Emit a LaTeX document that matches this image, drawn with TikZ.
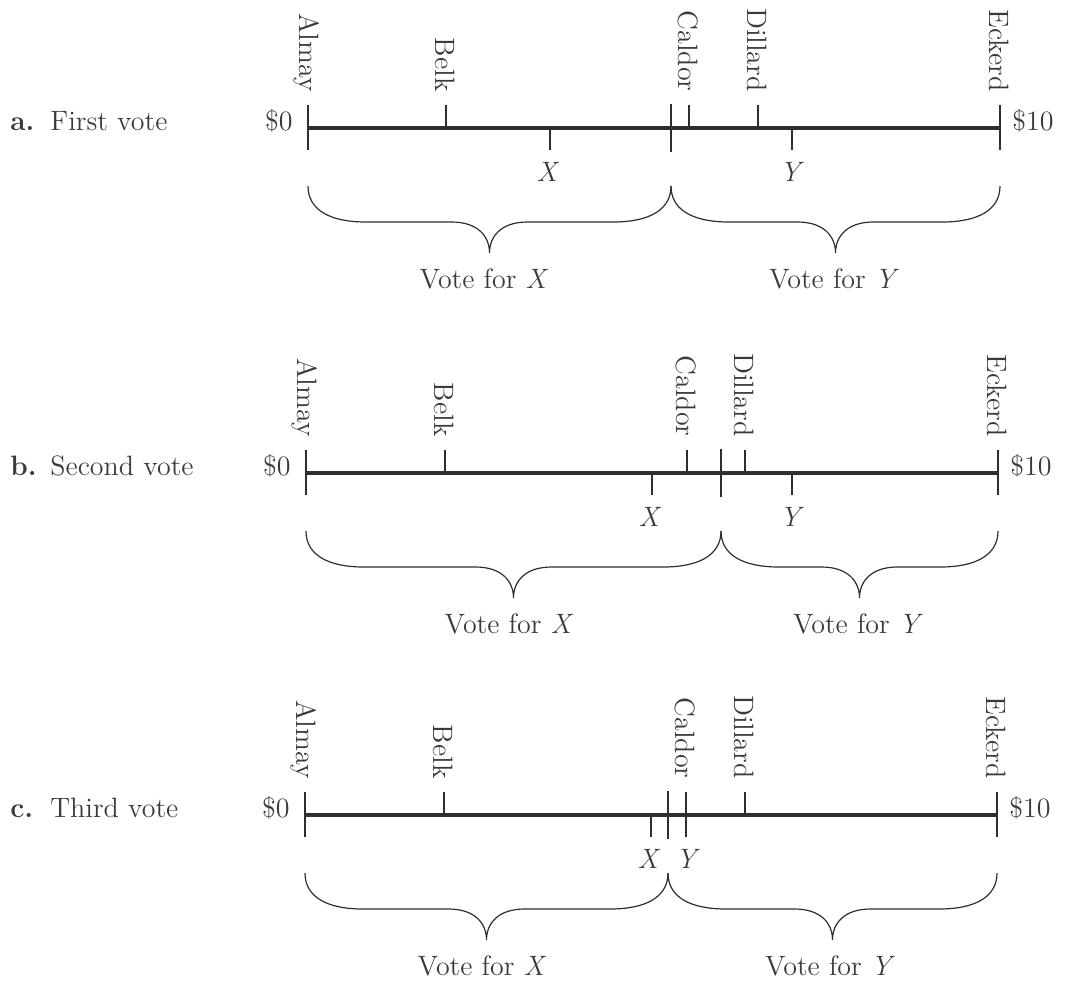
\documentclass[tikz,border=0pt]{standalone}
\usetikzlibrary{calc}
\definecolor{linecol}{HTML}{2E2E2E}
\definecolor{textcol}{HTML}{3A3A3A}
\tikzset{
  axisline/.style={draw=linecol, line width=1.6pt},
  tickline/.style={draw=linecol, line width=0.6pt},
  midtick/.style={draw=linecol, line width=1.3pt},
  bracepath/.style={draw=linecol, line width=0.6pt},
  storelbl/.style={rotate=-90, anchor=east, inner sep=0pt, text=textcol, font=\fontsize{14}{16}\selectfont},
  plaintxt/.style={inner sep=0pt, text=textcol, font=\fontsize{14}{16}\selectfont},
}
\newcommand{\mybrace}[3]{% xa, xb, ytop
  \draw[bracepath] (#1,#3) .. controls (#1,{#3+24}) and ({#1+22},{#3+36}) .. ({#1+58},{#3+36})
   -- ({(#1+#2)/2-38},{#3+36}) .. controls ({(#1+#2)/2-12},{#3+36}) and ({(#1+#2)/2},{#3+50}) .. ({(#1+#2)/2},{#3+67})
   .. controls ({(#1+#2)/2},{#3+50}) and ({(#1+#2)/2+12},{#3+36}) .. ({(#1+#2)/2+38},{#3+36})
   -- ({#2-58},{#3+36}) .. controls ({#2-22},{#3+36}) and (#2,{#3+24}) .. (#2,#3);}
% #1 panel letter, #2 title, #3 line y, #4 Almay x, #5 Belk x, #6 Caldor x, #7 Dillard x, #8 Eckerd x, #9 X x
\newcommand{\mypanel}[9]{%
  \coordinate (#1A) at (#4,#3); \coordinate (#1B) at (#5,#3);
  \coordinate (#1C) at (#6,#3); \coordinate (#1D) at (#7,#3);
  \coordinate (#1E) at (#8,#3); \coordinate (#1X) at (#9,#3);
  \node[plaintxt, anchor=base west] (#1letter) at (10,{#3+2}) {\textbf{#1.}};
  \node[plaintxt, anchor=base west] (#1title) at (50,{#3+2}) {#2};
  \draw[axisline] (#1A) -- (#1E);
  \draw[tickline] ($(#1A)+(0,-23)$) -- ($(#1A)+(0,22)$);
  \draw[tickline] ($(#1E)+(0,-23)$) -- ($(#1E)+(0,22)$);
  \draw[tickline] ($(#1B)+(0,-23)$) -- (#1B);
  \draw[tickline] ($(#1C)+(0,-23)$) -- (#1C);
  \draw[tickline] ($(#1D)+(0,-23)$) -- (#1D);
  \draw[tickline] (#1X) -- ($(#1X)+(0,22)$);
  \node[plaintxt, anchor=base east] (#1zero) at ($(#1A)+(-15,2)$) {\$0};
  \node[plaintxt, anchor=base west] (#1ten) at ($(#1E)+(12,2)$) {\$10};
  \node[storelbl] (#1almay) at ($(#1A)+(-1,-36)$) {Almay};
  \node[storelbl] (#1belk) at ($(#1B)+(-1,-36)$) {Belk};
  \node[storelbl] (#1caldor) at ($(#1C)+(-1,-36)$) {Caldor};
  \node[storelbl] (#1dillard) at ($(#1D)+(-1,-36)$) {Dillard};
  \node[storelbl] (#1eckerd) at ($(#1E)+(-1,-36)$) {Eckerd};
  \node[plaintxt, anchor=base] (#1xl) at ($(#1X)+(-2,53)$) {\textit{X}};
}
\begin{document}
\begin{tikzpicture}[x=0.5pt,y=-0.5pt]
\useasboundingbox (0,0) rectangle (1065,982);
% ---------- panel a
\mypanel{a}{First vote}{128}{308}{446}{689}{758}{1000}{550}
\coordinate (aY) at (792,128); \coordinate (aM) at (671,128);
\draw[tickline] (aY) -- ($(aY)+(0,22)$);
\node[plaintxt, anchor=base] (ayl) at ($(aY)+(0,53)$) {\textit{Y}};
\draw[midtick] ($(aM)+(0,-24)$) -- ($(aM)+(0,24)$);
\mybrace{308}{671}{186}
\mybrace{671}{1000}{186}
\node[plaintxt, anchor=base] (avx) at (484,288) {Vote for \textit{X}};
\node[plaintxt, anchor=base] (avy) at (834,288) {Vote for \textit{Y}};
% ---------- panel b
\mypanel{b}{Second vote}{473}{306}{445}{687}{745}{998}{652}
\coordinate (bY) at (792,473); \coordinate (bM) at (721,473);
\draw[tickline] (bY) -- ($(bY)+(0,22)$);
\node[plaintxt, anchor=base] (byl) at ($(bY)+(0,53)$) {\textit{Y}};
\draw[midtick] ($(bM)+(0,-24)$) -- ($(bM)+(0,24)$);
\mybrace{306}{721}{531}
\mybrace{721}{998}{531}
\node[plaintxt, anchor=base] (bvx) at (509,633) {Vote for \textit{X}};
\node[plaintxt, anchor=base] (bvy) at (858,633) {Vote for \textit{Y}};
% ---------- panel c
\mypanel{c}{Third vote}{815}{305}{444}{686}{745}{997}{651}
\coordinate (cM) at (668,815);
\draw[tickline] (cC) -- ($(cC)+(0,22)$);
\node[plaintxt, anchor=base] (cyl) at ($(cC)+(2,53)$) {\textit{Y}};
\draw[midtick] ($(cM)+(0,-24)$) -- ($(cM)+(0,24)$);
\mybrace{305}{668}{873}
\mybrace{668}{997}{873}
\node[plaintxt, anchor=base] (cvx) at (482,975) {Vote for \textit{X}};
\node[plaintxt, anchor=base] (cvy) at (830,975) {Vote for \textit{Y}};
\end{tikzpicture}
\end{document}
